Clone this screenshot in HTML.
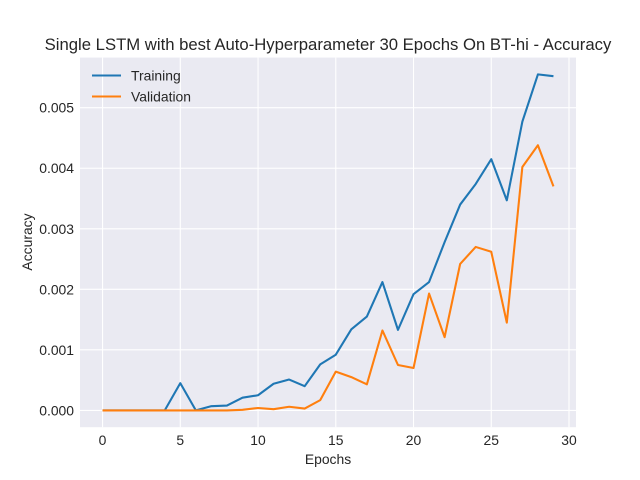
<!DOCTYPE html>
<html><head><meta charset="utf-8"><style>
body{margin:0;background:#fff;}
svg{display:block;font-family:"Liberation Sans","DejaVu Sans",sans-serif;}
</style></head><body>
<svg id="chart" width="640" height="480" viewBox="0 0 640 480">
<rect x="0" y="0" width="640" height="480" fill="#fff"/>
<text x="328" y="50" text-anchor="middle" font-size="16.7" fill="#262626">Single LSTM with best Auto-Hyperparameter 30 Epochs On BT-hi - Accuracy</text>
<rect x="80" y="57.6" width="496" height="369.6" fill="#eaeaf2"/>
<g id="grid"></g>
<g id="series"></g>
<text x="328" y="464" text-anchor="middle" font-size="13.9" fill="#262626">Epochs</text>
<text transform="translate(32,242) rotate(-90)" text-anchor="middle" font-size="13.9" fill="#262626">Accuracy</text>
<g>
<line x1="92" y1="75.5" x2="121" y2="75.5" stroke="#1f77b4" stroke-width="2.08"/>
<text x="131" y="80.5" font-size="13.9" fill="#262626">Training</text>
<line x1="92" y1="96.5" x2="121" y2="96.5" stroke="#ff7f0e" stroke-width="2.08"/>
<text x="131" y="101.5" font-size="13.9" fill="#262626">Validation</text>
</g>
</svg>
<script>
const epochs = [0,1,2,3,4,5,6,7,8,9,10,11,12,13,14,15,16,17,18,19,20,21,22,23,24,25,26,27,28,29];
const training = [0,0,0,0,0,0.00045,0,0.00007,0.00008,0.00021,0.00025,0.00044,0.00051,0.0004,0.00076,0.00092,0.00134,0.00155,0.00212,0.00133,0.00192,0.00212,0.00278,0.0034,0.00374,0.00415,0.00347,0.00477,0.00555,0.00552];
const validation = [0,0,0,0,0,0,0,0,0,0.00001,0.00004,0.00002,0.00006,0.00003,0.00017,0.00064,0.00055,0.00043,0.00132,0.00075,0.0007,0.00193,0.00121,0.00242,0.0027,0.00262,0.00145,0.00402,0.00438,0.0037];
const xTicks = [0,5,10,15,20,25,30];
const yTicks = [0,0.001,0.002,0.003,0.004,0.005];
const yTickLabels = ["0.000","0.001","0.002","0.003","0.004","0.005"];

const NS = "http://www.w3.org/2000/svg";
const L=80,R=576,T=57.6,B=427.2;
const xmin=-1.45, xmax=30.45;
const allV = training.concat(validation);
const vmax=Math.max(...allV), vmin=Math.min(...allV);
const pad=(vmax-vmin)*0.05;
const ymin=vmin-pad, ymax=vmax+pad;
function xs(v){return L+(v-xmin)/(xmax-xmin)*(R-L);}
function ys(v){return B-(v-ymin)/(ymax-ymin)*(B-T);}

const grid=document.getElementById('grid');
xTicks.forEach(t=>{
  const x=xs(t);
  if(x<L||x>R) return;
  const l=document.createElementNS(NS,'line');
  l.setAttribute('x1',x);l.setAttribute('x2',x);l.setAttribute('y1',T);l.setAttribute('y2',B);
  l.setAttribute('stroke','#fff');l.setAttribute('stroke-width','1.1');
  
  
  grid.appendChild(l);
  const tx=document.createElementNS(NS,'text');
  tx.setAttribute('x',x);tx.setAttribute('y',B+18);tx.setAttribute('text-anchor','middle');
  tx.setAttribute('font-size','13.9');tx.setAttribute('fill','#262626');
  tx.textContent=t;
  
  
  grid.appendChild(tx);
});
yTicks.forEach((t,i)=>{
  const y=ys(t);
  const l=document.createElementNS(NS,'line');
  l.setAttribute('x1',L);l.setAttribute('x2',R);l.setAttribute('y1',y);l.setAttribute('y2',y);
  l.setAttribute('stroke','#fff');l.setAttribute('stroke-width','1.1');
  
  
  grid.appendChild(l);
  const tx=document.createElementNS(NS,'text');
  tx.setAttribute('x',L-6);tx.setAttribute('y',y+5);tx.setAttribute('text-anchor','end');
  tx.setAttribute('font-size','13.9');tx.setAttribute('fill','#262626');
  tx.textContent=yTickLabels[i];
  
  
  grid.appendChild(tx);
});
const series=document.getElementById('series');
function drawLine(vals,color,name){
  const p=document.createElementNS(NS,'polyline');
  p.setAttribute('points',vals.map((v,i)=>xs(epochs[i])+','+ys(v)).join(' '));
  p.setAttribute('fill','none');p.setAttribute('stroke',color);p.setAttribute('stroke-width','2.08');
  p.setAttribute('stroke-linejoin','round');
  
  
  series.appendChild(p);
}
drawLine(training,'#1f77b4','training-line');
drawLine(validation,'#ff7f0e','validation-line');
</script>
</body></html>
